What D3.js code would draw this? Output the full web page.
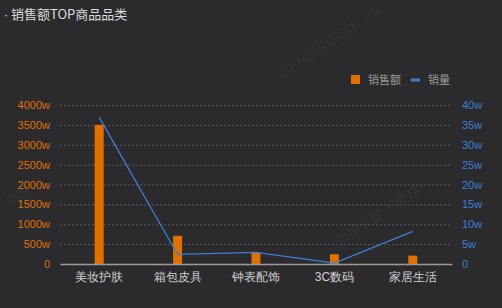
<!DOCTYPE html>
<html>
<head>
<meta charset="utf-8">
<script src="https://cdn.jsdelivr.net/npm/d3@7"></script>
<style>
  html, body { margin: 0; padding: 0; background: #2b2b2e; }
  svg { display: block; font-family: "Noto Sans CJK SC", "Noto Sans", sans-serif; }
</style>
</head>
<body>
<div id="chart"></div>
<script>
const categories = ["美妆护肤", "箱包皮具", "钟表配饰", "3C数码", "家居生活"];
const salesAmount = [3500, 710, 285, 245, 210];      // 销售额, 万
const salesVolume = [36.9, 2.4, 2.9, 0.2, 8.2];      // 销量, 万
const leftTicks = [0, 500, 1000, 1500, 2000, 2500, 3000, 3500, 4000];
const rightTicks = [0, 5, 10, 15, 20, 25, 30, 35, 40];

const width = 502, height = 308;
const margin = { top: 105, right: 50, bottom: 44, left: 60 };
const chartWidth = width - margin.left - margin.right;
const chartHeight = height - margin.top - margin.bottom;

const barColor = "#e07000";
const lineColor = "#3d7fd6";

const svg = d3.select("#chart").append("svg")
  .attr("width", width)
  .attr("height", height);

// watermarks
svg.append("text")
  .attr("transform", "translate(280,80) rotate(-33)")
  .attr("fill", "#fff").attr("fill-opacity", 0.05)
  .style("font-size", "14px").style("letter-spacing", "1px")
  .text("XD.NEWRANK.CN");
svg.append("text")
  .attr("transform", "translate(340,245) rotate(-33)")
  .attr("fill", "#fff").attr("fill-opacity", 0.06)
  .style("font-size", "13px")
  .text("新榜有数 · 新榜");
svg.append("text")
  .attr("transform", "translate(9,206) rotate(-33)")
  .attr("fill", "#fff").attr("fill-opacity", 0.06)
  .style("font-size", "13px")
  .text("新榜");

// title
svg.append("text")
  .attr("x", 4).attr("y", 19)
  .attr("fill", "#dcdcdc")
  .style("font-family", "'Liberation Sans', sans-serif")
  .style("font-size", "13px")
  .text("·");
svg.append("text")
  .attr("x", 11).attr("y", 19)
  .attr("fill", "#dcdcdc")
  .style("font-size", "13px")
  .text("销售额TOP商品品类");

const g = svg.append("g")
  .attr("transform", `translate(${margin.left}, ${margin.top})`);

const x = d3.scaleBand().domain(categories).range([0, chartWidth]);
const yLeft = d3.scaleLinear().domain([0, 4000]).range([chartHeight, 0]);
const yRight = d3.scaleLinear().domain([0, 40]).range([chartHeight, 0]);

// grid
g.selectAll(".grid")
  .data(leftTicks.slice(1))
  .enter()
  .append("line")
  .attr("x1", 0).attr("x2", chartWidth)
  .attr("y1", d => yLeft(d) + 0.5).attr("y2", d => yLeft(d) + 0.5)
  .attr("stroke", "#5a5a5e")
  .attr("stroke-dasharray", "2,2");

// left axis
const leftAxis = g.append("g")
  .attr("transform", "translate(-7,0)")
  .call(d3.axisLeft(yLeft).tickValues(leftTicks).tickSize(0)
    .tickFormat(d => d === 0 ? "0" : d + "w"));
leftAxis.select(".domain").remove();
leftAxis.selectAll("text")
  .attr("fill", barColor)
  .style("font-size", "11px");

// right axis
const rightAxis = g.append("g")
  .attr("transform", `translate(${chartWidth + 7},0)`)
  .call(d3.axisRight(yRight).tickValues(rightTicks).tickSize(0)
    .tickFormat(d => d === 0 ? "0" : d + "w"));
rightAxis.select(".domain").remove();
rightAxis.selectAll("text")
  .attr("fill", lineColor)
  .style("font-size", "11px");

// bars
const barWidth = 9;
g.selectAll(".bar")
  .data(salesAmount)
  .enter()
  .append("rect")
  .attr("x", (d, i) => x(categories[i]) + x.bandwidth() / 2 - barWidth / 2)
  .attr("y", d => yLeft(d))
  .attr("width", barWidth)
  .attr("height", d => chartHeight - yLeft(d))
  .style("fill", barColor);

// bottom axis
const bottomAxis = g.append("g")
  .attr("transform", `translate(0, ${chartHeight})`)
  .call(d3.axisBottom(x).tickSize(0).tickPadding(8));
bottomAxis.select(".domain").attr("stroke", "#9a9a9a").attr("stroke-width", 1.5);
bottomAxis.selectAll("text")
  .attr("fill", "#d0d0d0")
  .style("font-size", "12px");

// line
const line = d3.line()
  .x((d, i) => x(categories[i]) + x.bandwidth() / 2)
  .y(d => yRight(d));
g.append("path")
  .datum(salesVolume)
  .attr("d", line)
  .attr("fill", "none")
  .attr("stroke", lineColor)
  .attr("stroke-width", 1.3);

// legend
const legend = svg.append("g").attr("transform", "translate(351,73)");
legend.append("rect")
  .attr("x", 0).attr("y", 2).attr("width", 9).attr("height", 9)
  .attr("fill", barColor);
legend.append("text")
  .attr("x", 17).attr("y", 10.5)
  .attr("fill", "#9a9a9a").style("font-size", "11px")
  .text("销售额");
legend.append("rect")
  .attr("x", 60).attr("y", 5.5).attr("width", 9).attr("height", 3)
  .attr("fill", lineColor);
legend.append("text")
  .attr("x", 77).attr("y", 10.5)
  .attr("fill", "#9a9a9a").style("font-size", "11px")
  .text("销量");
</script>
</body>
</html>
